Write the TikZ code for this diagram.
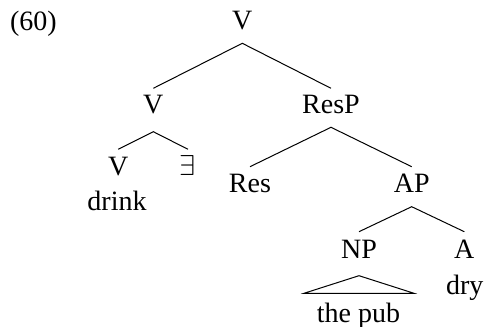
\documentclass[tikz,border=0pt]{standalone}
\usepackage{fontspec}
\setmainfont{Liberation Serif}
\usetikzlibrary{calc}
\begin{document}
\begin{tikzpicture}[x=0.5pt,y=-0.5pt,
  lbl/.style={anchor=base,inner sep=0pt,font=\fontsize{14}{16}\selectfont},
  branch/.style={line width=0.5pt,black}]
\useasboundingbox (0,0) rectangle (484,327);
\node[lbl] (ex) at (33.5,30.5) {(60)};
\node[lbl] (r) at (242.3,29.3) {V};
\node[lbl] (v1) at (153.3,113.3) {V};
\node[lbl] (resp) at (331,113.3) {ResP};
\node[lbl] (v2) at (118.2,175) {V};
\node[lbl] (ex2) at (188,175) {$\exists$};
\node[lbl] (drink) at (117,210.7) {drink};
\node[lbl] (res) at (250,192.7) {Res};
\node[lbl] (ap) at (411.7,192.7) {AP};
\node[lbl] (np) at (359,258.3) {NP};
\node[lbl] (a) at (464.3,258.3) {A};
\node[lbl] (dry) at (464.7,294.5) {dry};
\node[lbl] (pub) at (358.5,322) {the pub};
% branches
\draw[branch] ($(v1.base)+(0,-25)$) -- ($(r.base)+(0,14)$) -- ($(resp.base)+(0,-25)$);
\draw[branch] ($(v2.base)+(0,-25.7)$) -- ($(v1.base)+(0,18.4)$) -- ($(ex2.base)+(0,-25.7)$);
\draw[branch] ($(res.base)+(0,-26)$) -- ($(resp.base)+(0,14)$) -- ($(ap.base)+(0,-26)$);
\draw[branch] ($(np.base)+(0,-26.6)$) -- ($(ap.base)+(0,14)$) -- ($(a.base)+(0,-26.6)$);
\draw[branch] ($(np.base)+(0,17.4)$) -- ($(pub.base)+(-54.5,-28.7)$) -- ($(pub.base)+(55.5,-28.7)$) -- cycle;
\end{tikzpicture}
\end{document}
